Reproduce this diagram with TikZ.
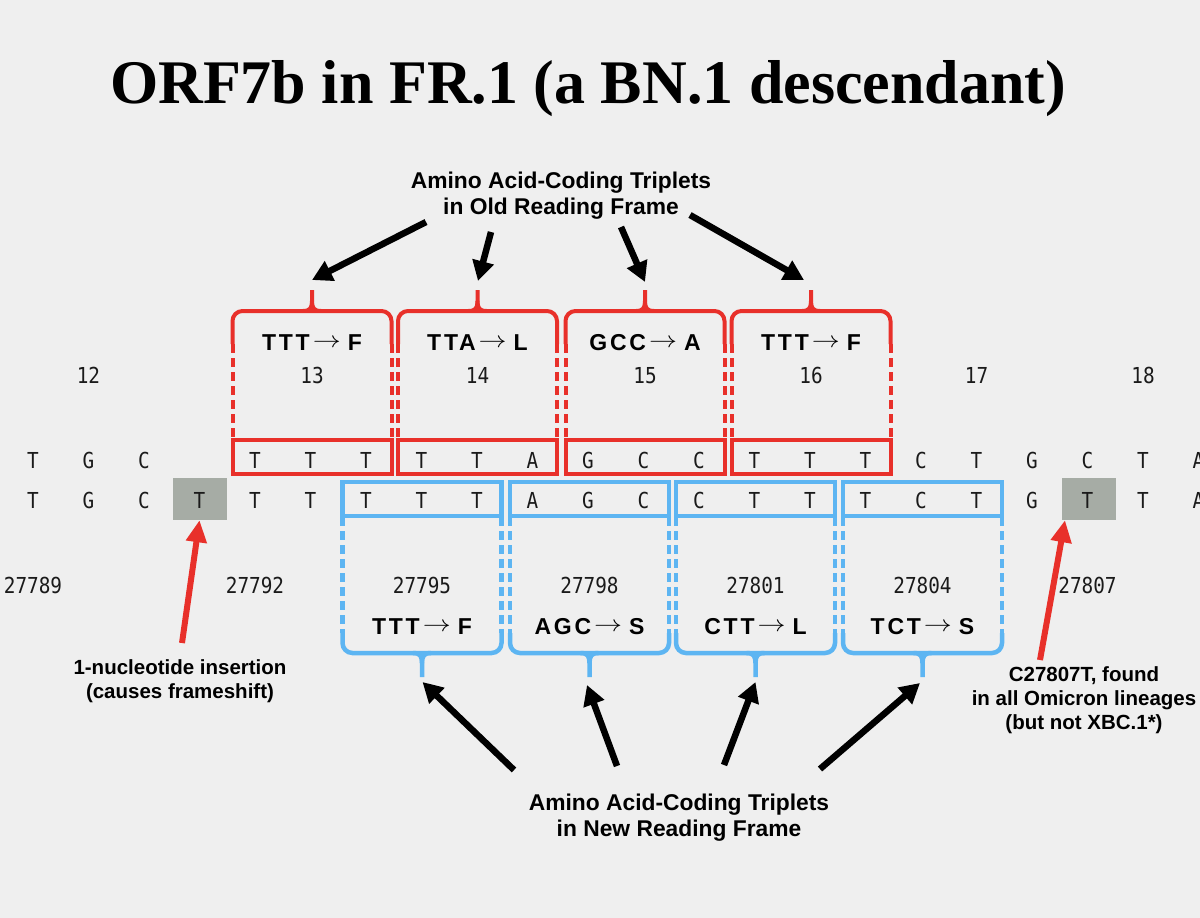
\documentclass[tikz,border=0pt]{standalone}
\usepackage{fontspec}
\usepackage{graphicx}
\setmainfont{Liberation Serif}
\newfontfamily\labf{Liberation Sans}
\newfontfamily\seqf[FakeStretch=0.88]{DejaVu Sans Mono}
\usetikzlibrary{arrows.meta}
\definecolor{bgc}{HTML}{EFEFEF}
\definecolor{redc}{HTML}{E8302A}
\definecolor{bluec}{HTML}{5DB5F2}
\definecolor{greyc}{HTML}{A6ACA5}
\definecolor{inkc}{HTML}{1A1A1A}
\newcommand\cdnarrow{\hspace{3pt}\raisebox{3pt}{\scalebox{1.35}[1.1]{\fontsize{20}{20}\selectfont$\rightarrow$}}\hspace{7pt}}
\begin{document}
\begin{tikzpicture}[x=1pt,y=-1pt,
  seqtxt/.style={font=\seqf\fontsize{22}{26}\selectfont, text=inkc, inner sep=0pt, anchor=base},
  codon/.style={font=\labf\bfseries\fontsize{23}{27}\selectfont\addfontfeature{LetterSpace=12}, text=black, inner sep=0pt, anchor=base},
  lab/.style={font=\labf\bfseries\fontsize{20.5}{24}\selectfont, align=center, inner sep=0pt, text=black},
  bigl/.style={font=\labf\bfseries\fontsize{22.8}{26}\selectfont, align=center, inner sep=0pt, text=black},
  rline/.style={draw=redc, line width=4pt},
  bline/.style={draw=bluec, line width=4.5pt},
  rdash/.style={rline, dash pattern=on 9pt off 5pt},
  bdash/.style={bline, dash pattern=on 9pt off 5pt},
  rbox/.style={rline, minimum width=159pt, minimum height=34pt, inner sep=0pt},
  bbox/.style={bline, minimum width=159pt, minimum height=34pt, inner sep=0pt},
  gbox/.style={fill=greyc, minimum width=54pt, minimum height=42pt, inner sep=0pt},
  blk/.style={line width=6.5pt, draw=black, -{Triangle[length=20pt,width=21pt]}},
  rarr/.style={line width=6pt, draw=redc, -{Triangle[length=22pt,width=20pt]}},
]
\fill[bgc] (0,0) rectangle (1200,918);
\useasboundingbox (0,0) rectangle (1200,918);

% title
\node[font=\bfseries\fontsize{62}{70}\selectfont, anchor=base, inner sep=0pt] (title) at (588,103) {ORF7b in FR.1 (a BN.1 descendant)};

% grey highlight boxes
\node[gbox] (g1) at (199.5,499) {};
\node[gbox] (g2) at (1089,499) {};

% red (old frame) boxes and brackets
\foreach \cx/\cod/\num [count=\k] in {312/TTT\cdnarrow F/13, 477.5/TTA\cdnarrow L/14, 645/GCC\cdnarrow A/15, 811/TTT\cdnarrow F/16}{
  \node[rbox] (rb\k) at (\cx,457) {};
  \draw[rline, rounded corners=10pt] ({\cx-79.5},344) |- ({\cx+79.5},311) -- ({\cx+79.5},344);
  \draw[rline] ({\cx-9},311) .. controls ({\cx-2},311) and ({\cx},308) .. ({\cx},301) -- ({\cx},290);
  \draw[rline] ({\cx+9},311) .. controls ({\cx+2},311) and ({\cx},308) .. ({\cx},301);
  \draw[rdash] ({\cx-79.5},344) -- ({\cx-79.5},440);
  \draw[rdash] ({\cx+79.5},344) -- ({\cx+79.5},440);
  \node[codon] (rc\k) at (\cx,350) {\cod};
  \node[seqtxt] (rn\k) at (\cx,383) {\num};
}

% blue (new frame) boxes and brackets
\foreach \cx/\cod/\num [count=\k] in {422/TTT\cdnarrow F/27795, 589.5/AGC\cdnarrow S/27798, 755.5/CTT\cdnarrow L/27801, 922.5/TCT\cdnarrow S/27804}{
  \node[bbox] (bb\k) at (\cx,499) {};
  \draw[bline, rounded corners=10pt] ({\cx-79.5},633) |- ({\cx+79.5},653) -- ({\cx+79.5},633);
  \draw[bline] ({\cx-9},653) .. controls ({\cx-2},653) and ({\cx},656) .. ({\cx},663) -- ({\cx},677);
  \draw[bline] ({\cx+9},653) .. controls ({\cx+2},653) and ({\cx},656) .. ({\cx},663);
  \draw[bdash] ({\cx-79.5},517) -- ({\cx-79.5},633);
  \draw[bdash] ({\cx+79.5},517) -- ({\cx+79.5},633);
  \node[codon] (bc\k) at (\cx,634) {\cod};
  \node[seqtxt] (bn\k) at (\cx,593) {\num};
}

% sequences
\foreach \c/\l in {0/T,1/G,2/C,4/T,5/T,6/T,7/T,8/T,9/A,10/G,11/C,12/C,13/T,14/T,15/T,16/C,17/T,18/G,19/C,20/T,21/A}
  \node[seqtxt] (t\c) at ({33+55.5*\c},468) {\l};
\foreach \c/\l in {0/T,1/G,2/C,3/T,4/T,5/T,6/T,7/T,8/T,9/A,10/G,11/C,12/C,13/T,14/T,15/T,16/C,17/T,18/G,19/T,20/T,21/A}
  \node[seqtxt] (b\c) at ({33+55.5*\c},508) {\l};

% codon numbers outside the boxes
\node[seqtxt] (n12) at ({33+55.5*1},383) {12};
\node[seqtxt] (n17) at ({33+55.5*17},383) {17};
\node[seqtxt] (n18) at ({33+55.5*20},383) {18};
\foreach \c/\num in {0/27789,4/27792,19/27807}
  \node[seqtxt] (p\num) at ({33+55.5*\c},593) {\num};

% labels
\node[bigl] (toplab) at (561,196) {Amino Acid-Coding Triplets\\in Old Reading Frame};
\node[bigl] (botlab) at (679,818) {Amino Acid-Coding Triplets\\in New Reading Frame};
\node[lab] (inslab) at (180,681) {1-nucleotide insertion\\(causes frameshift)};
\node[lab] (mutlab) at (1084,700) {C27807T, found\\in all Omicron lineages\\(but not XBC.1*)};

% black arrows (top)
\coordinate (ta1) at (426,222); \coordinate (ha1) at (312,280);
\coordinate (ta2) at (491,232); \coordinate (ha2) at (478,281);
\coordinate (ta3) at (621,227); \coordinate (ha3) at (645,282);
\coordinate (ta4) at (690,215); \coordinate (ha4) at (804,280);
\foreach \i in {1,2,3,4} \draw[blk] (ta\i) -- (ha\i);

% black arrows (bottom)
\coordinate (tb1) at (514,770); \coordinate (hb1) at (422.5,682);
\coordinate (tb2) at (617,766); \coordinate (hb2) at (587,685);
\coordinate (tb3) at (724,765); \coordinate (hb3) at (755.5,682);
\coordinate (tb4) at (820,769); \coordinate (hb4) at (920,683);
\foreach \i in {1,2,3,4} \draw[blk] (tb\i) -- (hb\i);

% red arrows
\coordinate (tr1) at (182,643);
\coordinate (tr2) at (1040,660);
\draw[rarr] (tr1) -- (g1.south);
\draw[rarr] (tr2) -- ([xshift=-24pt]g2.south);
\end{tikzpicture}
\end{document}
